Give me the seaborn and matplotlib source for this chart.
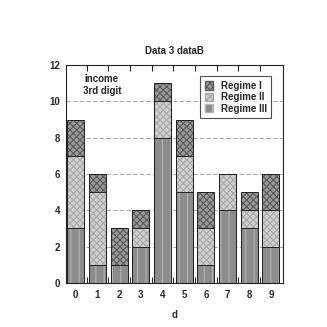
import matplotlib

matplotlib.use("Agg")
import matplotlib.pyplot as plt
import numpy as np
import pandas as pd
import seaborn as sns
from matplotlib.patches import Patch
from matplotlib.ticker import FixedLocator

digits = ["0", "1", "2", "3", "4", "5", "6", "7", "8", "9"]
regime_3 = [3, 1, 1, 2, 8, 5, 1, 4, 3, 2]
regime_2 = [4, 4, 0, 1, 2, 2, 2, 2, 1, 2]
regime_1 = [2, 1, 2, 1, 1, 2, 2, 0, 1, 2]

sns.set_style("white")
plt.rcParams["font.family"] = ["Liberation Sans", "DejaVu Sans"]
plt.rcParams["font.weight"] = "bold"
plt.rcParams["hatch.linewidth"] = 0.8

df = pd.DataFrame({"d": digits, "III": regime_3, "II": regime_2, "I": regime_1})
df["top_II"] = df["III"] + df["II"]
df["top_I"] = df["top_II"] + df["I"]

fig = plt.figure(figsize=(3.27, 3.27), dpi=100)
ax = fig.add_axes([0.202, 0.135, 0.663, 0.666])

layers = [
    ("top_I", "#9a9a9a", "#5a5a5a", "xxxxx", "Regime I"),
    ("top_II", "#d0d0d0", "#a8a8a8", "xxxxx", "Regime II"),
    ("III", "#8c8c8c", "#b4b4b4", "||", "Regime III"),
]
W = 0.78
for col, fc, hc, hatch, lab in layers:
    sns.barplot(data=df, x="d", y=col, color=fc, saturation=1, width=W,
                hatch=hatch, edgecolor=hc, linewidth=0, ax=ax, zorder=2)
for col in ["top_I", "top_II", "III"]:
    sns.barplot(data=df, x="d", y=col, fill=False, width=W, edgecolor="#222222",
                linewidth=0.7, ax=ax, zorder=3)

ax.set_xlim(-0.45, 9.55)
ax.set_ylim(0, 12)
ax.set_yticks([0, 2, 4, 6, 8, 10, 12])
for y in [2, 4, 6, 8, 10]:
    ax.axhline(y, color="#aaaaaa", lw=0.8, ls=(0, (4, 2)), zorder=1)
ax.xaxis.set_minor_locator(FixedLocator(np.arange(0.5, 9.5, 1)))
ax.tick_params(axis="x", which="major", length=0, labelsize=7, pad=5)
ax.tick_params(axis="x", which="minor", direction="in", length=4, width=0.8,
               top=True, bottom=True)
ax.tick_params(axis="y", which="major", direction="in", length=3, labelsize=7, pad=4)
for s in ax.spines.values():
    s.set_color("#222222")
    s.set_linewidth(0.8)

ax.set_ylabel("")
ax.set_xlabel("d", fontsize=7, fontweight="bold", labelpad=7)
ax.set_title("Data 3 dataB", fontsize=7, fontweight="bold", pad=8)
ax.text(1.2, 10.9, "income\n3rd digit", ha="center", va="center", fontsize=7,
        fontweight="bold", linespacing=1.3)

handles = [
    Patch(facecolor="#9a9a9a", edgecolor="#5a5a5a", hatch="xxxxx", label="Regime I"),
    Patch(facecolor="#d0d0d0", edgecolor="#a8a8a8", hatch="xxxxx", label="Regime II"),
    Patch(facecolor="#8c8c8c", edgecolor="#b4b4b4", hatch="||", label="Regime III"),
]
leg = ax.legend(handles=handles, loc="upper right", bbox_to_anchor=(0.97, 0.97),
                fontsize=7, frameon=True, fancybox=False, handlelength=0.9,
                handleheight=0.9, handletextpad=0.8, labelspacing=0.15,
                borderpad=0.45)
leg.get_frame().set_edgecolor("#222222")
leg.get_frame().set_linewidth(0.8)

fig.savefig("out.png", dpi=100, facecolor="white")
